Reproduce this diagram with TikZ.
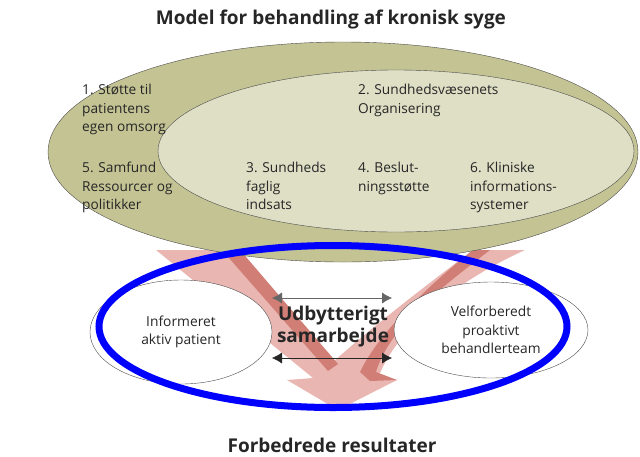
\documentclass[tikz,border=0pt]{standalone}
\usepackage{fontspec}
\setmainfont{Open Sans}
\usetikzlibrary{arrows.meta,shapes.geometric}

\definecolor{modelolive}{RGB}{196,195,148}
\definecolor{modelpale}{RGB}{222,223,197}
\definecolor{arrowpink}{RGB}{234,182,177}
\definecolor{arrowrose}{RGB}{208,126,118}

\tikzset{
  itemtext/.style={anchor=north west,align=left,inner sep=0pt,
    font=\fontsize{13.7}{18.5}\selectfont,text=black!85},
  partner/.style={ellipse,draw=black!70,fill=white,thin,inner sep=0pt,
    align=center,font=\fontsize{13.8}{18.5}\selectfont,text=black!85},
  headline/.style={font=\bfseries\fontsize{19}{22}\selectfont,text=black!85},
  teamwork/.style={arrows={Latex[length=10pt,width=11pt]-Latex[length=10pt,width=11pt]},thin}
}

\begin{document}
\begin{tikzpicture}[x=1pt,y=-1pt]
  \useasboundingbox (0,0) rectangle (640,456);

  % Pink arrow
  \fill[arrowpink] (156,250) -- (240,250) -- (333,362)
    .. controls (380,320) and (440,275) .. (473,250) -- (525,250)
    .. controls (470,275) and (400,320) .. (378,378) -- (397,380)
    -- (338,410) -- (287,380) -- (313,378) -- cycle;
  \fill[arrowrose] (222,250) -- (240,250) -- (338,364) -- (328,371) -- cycle;
  \fill[arrowrose] (473,250) -- (490,250)
    .. controls (445,285) and (390,325) .. (376,372) -- (397,380)
    -- (370,381) -- (360,372) .. controls (380,330) and (435,280) .. (473,250);

  % Model ellipses
  \draw[black!70,thin,fill=modelolive] (343,152) ellipse [x radius=295, y radius=110];
  \draw[black!70,thin,fill=modelpale] (396,151) ellipse [x radius=238, y radius=81];

  % Elements
  \node[itemtext] (selfcare) at (82,84) {1. Støtte til\\patientens\\egen omsorg};
  \node[itemtext] (society) at (82,162) {5. Samfund\\Ressourcer og\\politikker};
  \node[itemtext] (delivery) at (246,162) {3. Sundheds\\faglig\\indsats};
  \node[itemtext] (organisation) at (358,84) {2. Sundhedsvæsenets\\Organisering};
  \node[itemtext] (decision) at (358,162) {4. Beslut-\\ningsstøtte};
  \node[itemtext] (clinical) at (470,162) {6. Kliniske\\informations-\\systemer};

  % Partners
  \node[partner,minimum width=182pt,minimum height=104pt] (patient) at (181,332)
    {Informeret\\aktiv patient};
  \node[partner,minimum width=194pt,minimum height=96pt] (team) at (491,330)
    {Velforberedt\\proaktivt\\behandlerteam};

  \node[headline,align=center,font=\bfseries\fontsize{19}{22}\selectfont] (interaction) at (333,327)
    {Udbytterigt\\samarbejde};
  \coordinate (topleft) at (272,298);
  \coordinate (topright) at (392,298);
  \coordinate (lowleft) at (272,358);
  \coordinate (lowright) at (392,358);
  \draw[teamwork,black!60] (topleft) -- (topright);
  \draw[teamwork,black!85] (lowleft) -- (lowright);

  % Titles
  \node[headline] (title) at (331,20) {Model for behandling af kronisk syge};
  \node[headline] (outcome) at (332,445) {Forbedrede resultater};

  % Highlight
  \draw[blue,line width=7pt] (333,326.5) ellipse [x radius=234, y radius=81];
\end{tikzpicture}
\end{document}
